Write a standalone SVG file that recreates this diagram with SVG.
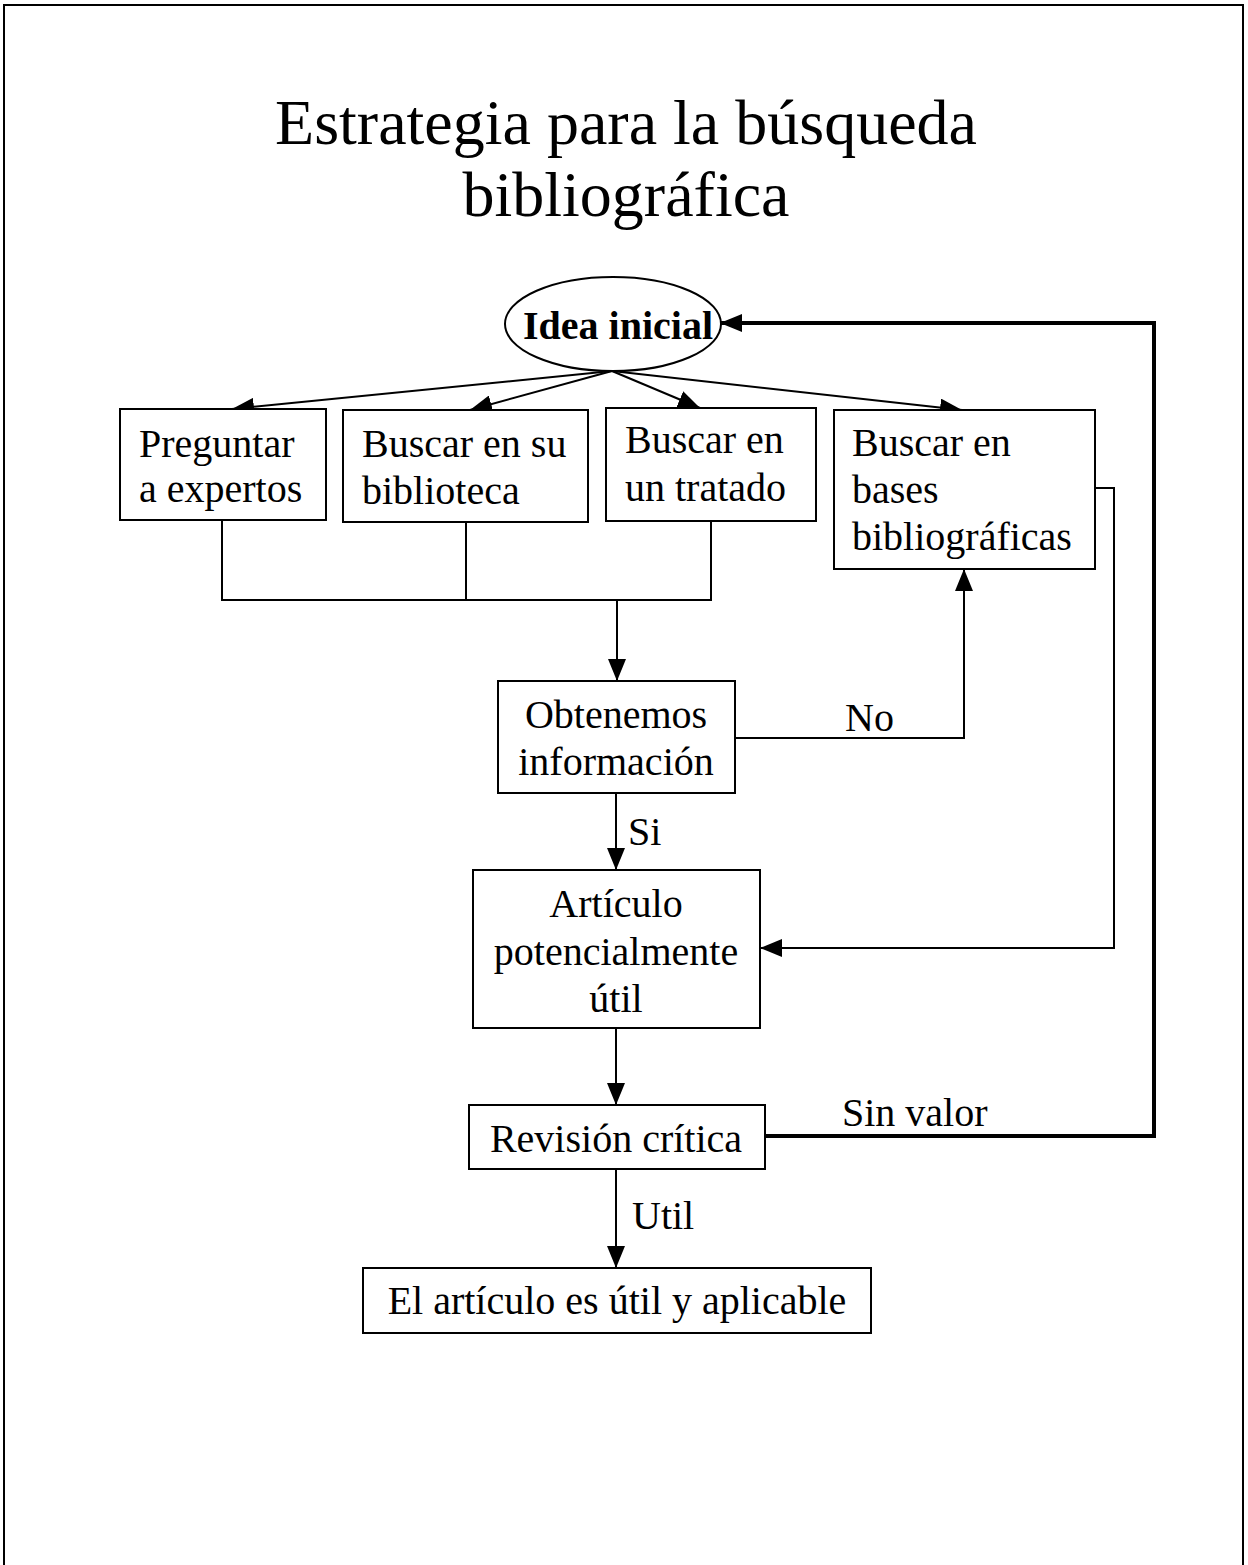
<svg xmlns="http://www.w3.org/2000/svg" width="1248" height="1565" viewBox="0 0 1248 1565">
  <style>
    .box { fill: #ffffff; stroke: #000000; stroke-width: 2; }
    .lbl { font-family: "Liberation Serif", "Times New Roman", serif; font-size: 40px; fill: #000000; }
    .mid { text-anchor: middle; }
    .title { font-family: "Liberation Serif", "Times New Roman", serif; font-size: 64px; fill: #000000; text-anchor: middle; }
    .edge { fill: none; stroke: #000000; stroke-width: 2; }
    .thick { fill: none; stroke: #000000; stroke-width: 4; }
  </style>
  <defs>
    <marker id="arrow" markerUnits="userSpaceOnUse" markerWidth="24" markerHeight="18" refX="22" refY="9" orient="auto">
      <path d="M0,0 L22,9 L0,18 Z" fill="#000000"/>
    </marker>
  </defs>

  <rect x="0" y="0" width="1248" height="1565" fill="#ffffff"/>
  <!-- page frame -->
  <path d="M4,1570 L4,5 L1243,5 L1243,1570" fill="none" stroke="#000000" stroke-width="2"/>

  <!-- heading -->
  <g id="title">
    <text class="title" x="626" y="144">Estrategia para la búsqueda</text>
    <text class="title" x="626" y="216">bibliográfica</text>
  </g>

  <!-- connectors -->
  <g id="connectors">
    <line class="edge" x1="612" y1="371" x2="232" y2="409" marker-end="url(#arrow)"/>
    <line class="edge" x1="612" y1="371" x2="470" y2="410" marker-end="url(#arrow)"/>
    <line class="edge" x1="612" y1="371" x2="700" y2="408" marker-end="url(#arrow)"/>
    <line class="edge" x1="612" y1="371" x2="962" y2="410" marker-end="url(#arrow)"/>
    <polyline class="edge" points="222,520 222,600 711,600 711,521"/>
    <line class="edge" x1="466" y1="522" x2="466" y2="600"/>
    <line class="edge" x1="617" y1="600" x2="617" y2="681" marker-end="url(#arrow)"/>
    <polyline class="edge" points="735,738 964,738 964,569" marker-end="url(#arrow)"/>
    <line class="edge" x1="616" y1="793" x2="616" y2="870" marker-end="url(#arrow)"/>
    <polyline class="edge" points="1095,488 1114,488 1114,948 760,948" marker-end="url(#arrow)"/>
    <line class="edge" x1="616" y1="1028" x2="616" y2="1105" marker-end="url(#arrow)"/>
    <polyline class="thick" points="765,1136 1154,1136 1154,323 720,323" marker-end="url(#arrow)"/>
    <line class="edge" x1="616" y1="1169" x2="616" y2="1268" marker-end="url(#arrow)"/>
    <text class="lbl" x="845" y="731">No</text>
    <text class="lbl" x="628" y="845">Si</text>
    <text class="lbl" x="842" y="1126">Sin valor</text>
    <text class="lbl" x="632" y="1229">Util</text>
  </g>

  <g id="idea-inicial">
    <ellipse cx="613" cy="324" rx="108" ry="47" fill="#ffffff" stroke="#000000" stroke-width="2"/>
    <text class="lbl mid" x="618" y="339" font-weight="bold" font-size="43">Idea inicial</text>
  </g>

  <g id="preguntar-expertos">
    <rect class="box" x="120" y="409" width="206" height="111"/>
    <text class="lbl" x="139" y="457">Preguntar</text>
    <text class="lbl" x="139" y="502">a expertos</text>
  </g>

  <g id="buscar-biblioteca">
    <rect class="box" x="343" y="410" width="245" height="112"/>
    <text class="lbl" x="362" y="457">Buscar en su</text>
    <text class="lbl" x="362" y="504">biblioteca</text>
  </g>

  <g id="buscar-tratado">
    <rect class="box" x="606" y="408" width="210" height="113"/>
    <text class="lbl" x="625" y="453">Buscar en</text>
    <text class="lbl" x="625" y="501">un tratado</text>
  </g>

  <g id="buscar-bases">
    <rect class="box" x="834" y="410" width="261" height="159"/>
    <text class="lbl" x="852" y="456">Buscar en</text>
    <text class="lbl" x="852" y="503">bases</text>
    <text class="lbl" x="852" y="550">bibliográficas</text>
  </g>

  <g id="obtenemos-informacion">
    <rect class="box" x="498" y="681" width="237" height="112"/>
    <text class="lbl mid" x="616" y="728">Obtenemos</text>
    <text class="lbl mid" x="616" y="775">información</text>
  </g>

  <g id="articulo-potencial">
    <rect class="box" x="473" y="870" width="287" height="158"/>
    <text class="lbl mid" x="616" y="917">Artículo</text>
    <text class="lbl mid" x="616" y="965">potencialmente</text>
    <text class="lbl mid" x="616" y="1012">útil</text>
  </g>

  <g id="revision-critica">
    <rect class="box" x="469" y="1105" width="296" height="64"/>
    <text class="lbl mid" x="616" y="1152">Revisión crítica</text>
  </g>

  <g id="articulo-aplicable">
    <rect class="box" x="363" y="1268" width="508" height="65"/>
    <text class="lbl mid" x="617" y="1314">El artículo es útil y aplicable</text>
  </g>
</svg>
